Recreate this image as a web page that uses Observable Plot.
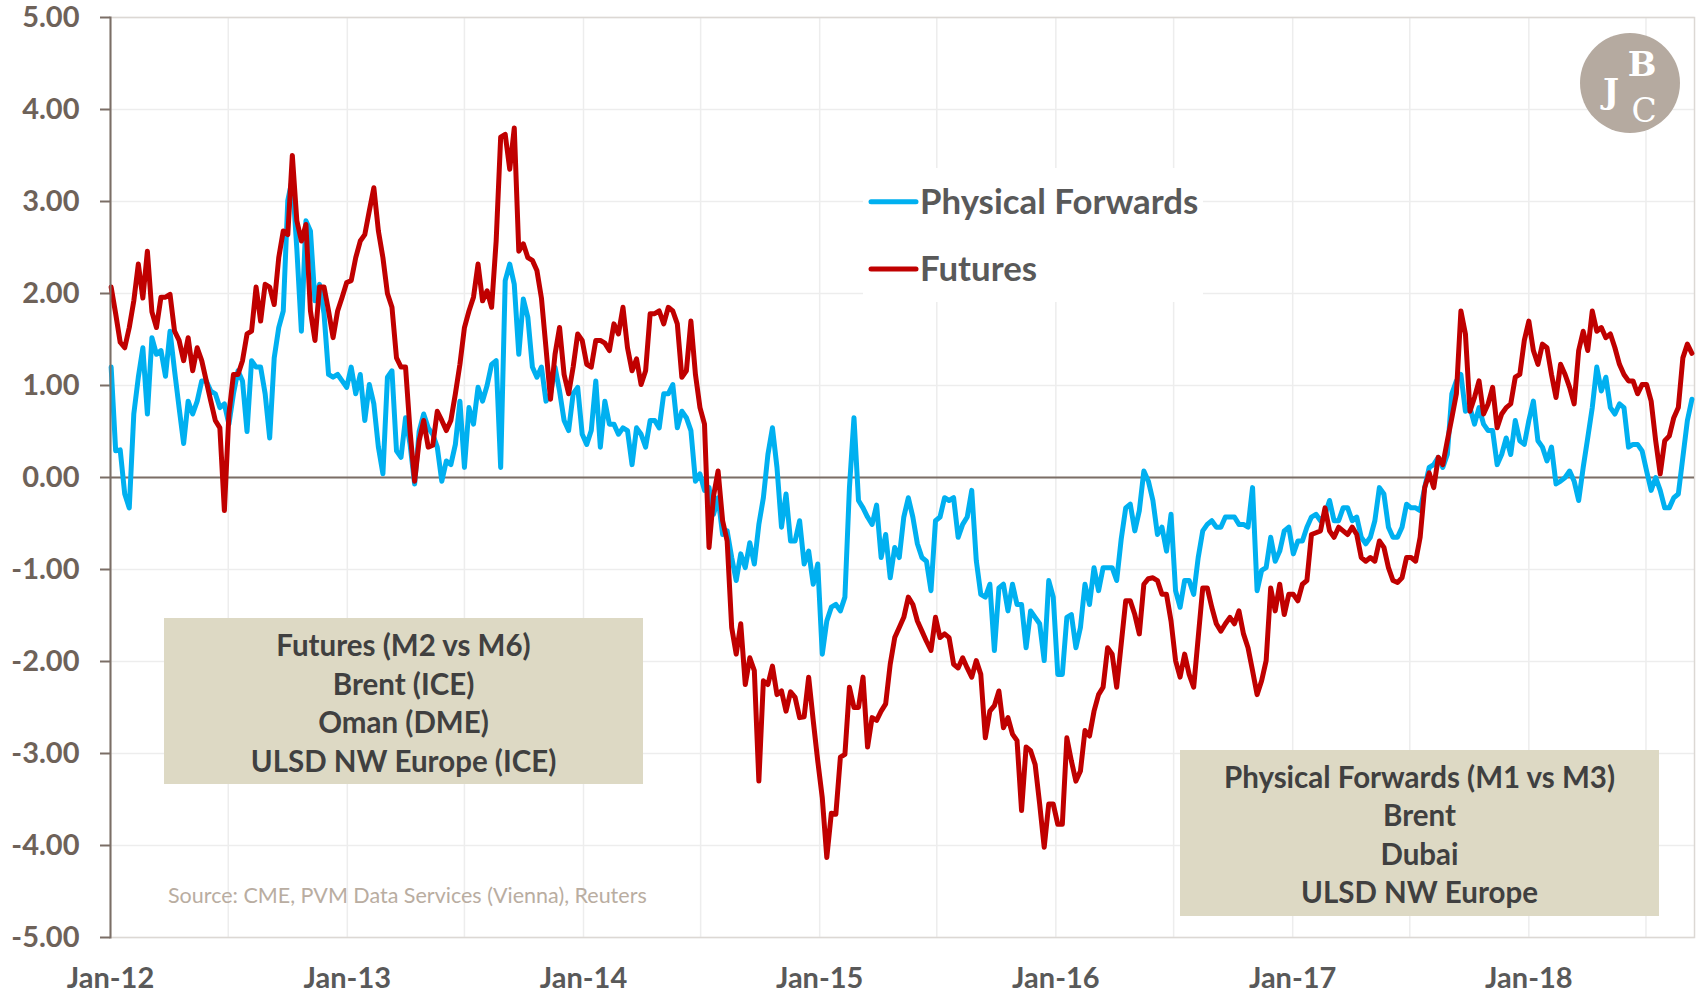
<!DOCTYPE html>
<html>
<head>
<meta charset="utf-8">
<script src="https://cdn.jsdelivr.net/npm/d3@7"></script>
<script src="https://cdn.jsdelivr.net/npm/@observablehq/plot@0.6"></script>
<style>
  html, body { margin: 0; padding: 0; background: #fff; }
  #wrap { position: relative; width: 1700px; height: 991px; font-family: Lato, "Open Sans", sans-serif; }
  #wrap > svg.overlay { position: absolute; left: 0; top: 0; pointer-events: none; }
</style>
</head>
<body>
<div id="wrap"></div>
<script>
// Weekly observations starting Monday 2 Jan 2012 (USD/bbl spread)
const firstWeek = "2012-01-02";

const futures2012 = [2.07,1.78,1.47,1.41,1.63,1.92,2.32,1.95,2.46,1.80,1.63,1.96,1.96,1.99,1.59,1.49,1.27,1.52,1.16,1.41,1.27,1.05,0.83,0.62,0.54,-0.36,0.69,1.12,1.12,1.27,1.56,1.59,2.07,1.70,2.10,2.07,1.88,2.39,2.68,2.64,3.50,2.79,2.57,2.75,1.81,1.49,2.07,2.07,1.81,1.52,1.81,1.96,2.12];
const futures2013 = [2.14,2.39,2.57,2.64,2.90,3.15,2.68,2.39,2.00,1.85,1.30,1.20,1.20,0.50,-0.04,0.40,0.62,0.33,0.35,0.72,0.62,0.51,0.62,0.91,1.23,1.63,1.81,1.96,2.32,1.92,2.03,1.85,2.57,3.70,3.73,3.35,3.80,2.46,2.54,2.39,2.36,2.25,1.95,1.41,0.85,1.34,1.63,1.12,0.91,1.20,1.56,1.49,1.23];
const futures2014 = [1.20,1.49,1.49,1.46,1.38,1.67,1.56,1.85,1.41,1.16,1.29,1.01,1.16,1.78,1.78,1.81,1.67,1.85,1.81,1.67,1.09,1.16,1.70,1.12,0.76,0.58,-0.76,-0.20,0.07,-0.47,-0.69,-1.63,-1.92,-1.59,-2.25,-1.96,-2.10,-3.30,-2.21,-2.25,-2.05,-2.36,-2.32,-2.54,-2.33,-2.39,-2.61,-2.60,-2.17,-2.64,-3.08,-3.48];
const futures2015 = [-4.13,-3.65,-3.66,-3.04,-3.01,-2.28,-2.50,-2.50,-2.17,-2.93,-2.61,-2.64,-2.54,-2.46,-2.03,-1.74,-1.63,-1.52,-1.30,-1.38,-1.56,-1.67,-1.78,-1.88,-1.52,-1.74,-1.70,-1.74,-2.03,-2.07,-1.96,-2.07,-2.17,-1.99,-2.14,-2.83,-2.54,-2.48,-2.32,-2.72,-2.61,-2.79,-2.86,-3.62,-2.93,-2.97,-3.12,-3.55,-4.02,-3.55,-3.55,-3.77];
const futures2016 = [-3.77,-2.83,-3.08,-3.30,-3.19,-2.75,-2.81,-2.54,-2.36,-2.28,-1.85,-1.92,-2.28,-1.81,-1.34,-1.34,-1.49,-1.70,-1.16,-1.10,-1.09,-1.12,-1.27,-1.27,-1.56,-1.99,-2.17,-1.92,-2.14,-2.28,-1.74,-1.20,-1.20,-1.41,-1.59,-1.67,-1.59,-1.52,-1.59,-1.45,-1.70,-1.85,-2.10,-2.36,-2.21,-1.99,-1.20,-1.45,-1.16,-1.49,-1.27,-1.27,-1.34];
const futures2017_18 = [-1.16,-1.12,-0.62,-0.60,-0.58,-0.33,-0.58,-0.65,-0.54,-0.58,-0.62,-0.54,-0.62,-0.87,-0.91,-0.87,-0.91,-0.69,-0.76,-0.98,-1.12,-1.14,-1.09,-0.87,-0.87,-0.91,-0.65,-0.11,0.05,-0.11,0.22,0.14,0.40,0.65,0.91,1.81,1.56,0.72,0.87,1.05,0.69,0.80,0.98,0.54,0.69,0.76,0.80,1.09,1.12,1.49,1.70,1.38,1.23,1.45,1.41,1.12,0.87,1.23,1.12,0.98,0.80,1.38,1.59,1.38,1.81,1.59,1.63,1.52,1.56,1.41,1.23,1.12,1.05,1.05,0.91,1.01,1.01,0.83,0.40,0.04,0.40,0.45,0.65,0.76,1.30,1.45,1.35];

const physical2012 = [1.20,0.29,0.30,-0.18,-0.33,0.69,1.09,1.41,0.69,1.52,1.34,1.38,1.10,1.59,1.16,0.76,0.37,0.83,0.69,0.83,1.05,1.05,0.94,0.91,0.76,0.80,0.58,0.91,1.16,1.05,0.50,1.27,1.20,1.20,0.91,0.43,1.30,1.63,1.81,3.01,3.25,2.48,1.59,2.79,2.68,1.92,2.10,1.78,1.12,1.09,1.12,1.05,0.98];
const physical2013 = [1.20,0.91,1.12,0.62,1.01,0.80,0.33,0.04,1.09,1.16,0.29,0.22,0.65,0.36,-0.07,0.50,0.69,0.54,0.47,0.33,-0.04,0.18,0.14,0.36,0.83,0.11,0.76,0.58,0.98,0.83,1.00,1.23,1.27,0.11,2.14,2.32,2.10,1.34,1.94,1.74,1.20,1.09,1.20,0.83,0.91,1.20,0.94,0.62,0.51,0.91,0.98,0.47,0.36];
const physical2014 = [0.51,1.05,0.33,0.83,0.58,0.58,0.47,0.54,0.51,0.14,0.54,0.47,0.33,0.62,0.62,0.54,0.91,0.91,1.01,0.54,0.72,0.65,0.51,-0.04,0.04,-0.14,-0.11,-0.40,-0.22,-0.62,-0.58,-0.87,-1.12,-0.83,-0.98,-0.71,-0.94,-0.51,-0.22,0.25,0.54,0.11,-0.54,-0.18,-0.69,-0.69,-0.47,-0.94,-0.80,-1.16,-0.94,-1.92];
const physical2015 = [-1.56,-1.41,-1.38,-1.45,-1.30,-0.11,0.65,-0.25,-0.33,-0.43,-0.51,-0.30,-0.87,-0.62,-1.09,-0.76,-0.87,-0.43,-0.22,-0.43,-0.72,-0.87,-0.91,-1.23,-0.47,-0.43,-0.22,-0.25,-0.22,-0.65,-0.51,-0.43,-0.14,-0.90,-1.27,-1.30,-1.16,-1.88,-1.20,-1.16,-1.45,-1.16,-1.38,-1.38,-1.85,-1.45,-1.52,-1.59,-1.99,-1.12,-1.30,-2.14];
const physical2016 = [-2.14,-1.52,-1.49,-1.85,-1.63,-1.16,-1.38,-0.98,-1.23,-0.98,-0.98,-0.98,-1.12,-0.67,-0.33,-0.29,-0.58,-0.36,0.07,-0.04,-0.25,-0.62,-0.54,-0.80,-0.40,-1.23,-1.41,-1.12,-1.12,-1.27,-0.87,-0.58,-0.51,-0.47,-0.54,-0.54,-0.43,-0.43,-0.43,-0.51,-0.51,-0.54,-0.11,-1.23,-1.01,-0.98,-0.65,-0.91,-0.80,-0.58,-0.54,-0.83,-0.69];
const physical2017_18 = [-0.69,-0.54,-0.43,-0.40,-0.47,-0.40,-0.25,-0.47,-0.47,-0.33,-0.33,-0.47,-0.43,-0.65,-0.72,-0.65,-0.47,-0.11,-0.18,-0.54,-0.65,-0.65,-0.54,-0.29,-0.33,-0.33,-0.36,-0.11,0.11,0.14,0.22,0.11,0.25,0.91,1.05,1.12,0.72,0.76,0.58,0.76,0.58,0.51,0.51,0.14,0.25,0.43,0.25,0.62,0.40,0.36,0.62,0.83,0.40,0.33,0.18,0.33,-0.07,-0.04,0.00,0.07,-0.04,-0.25,0.11,0.43,0.76,1.20,0.94,1.09,0.76,0.69,0.80,0.76,0.33,0.36,0.36,0.29,0.07,-0.14,0.00,-0.14,-0.33,-0.33,-0.22,-0.18,0.22,0.62,0.85];

const seriesNames = ["Physical Forwards", "Futures"];
const seriesColors = ["#00b0f0", "#c00000"];
const yTicks = [5, 4, 3, 2, 1, 0, -1, -2, -3, -4, -5];
const xTickLabels = ["Jan-12", "Jan-13", "Jan-14", "Jan-15", "Jan-16", "Jan-17", "Jan-18"];
const xRange = ["2012-01-01", "2018-09-14"];
const leftBoxLines = ["Futures (M2 vs M6)", "Brent (ICE)", "Oman (DME)", "ULSD NW Europe (ICE)"];
const rightBoxLines = ["Physical Forwards (M1 vs M3)", "Brent", "Dubai", "ULSD NW Europe"];
const sourceNote = "Source: CME, PVM Data Services (Vienna), Reuters";

// ---- build table ----
const futures = [].concat(futures2012, futures2013, futures2014, futures2015, futures2016, futures2017_18);
const physical = [].concat(physical2012, physical2013, physical2014, physical2015, physical2016, physical2017_18);
const start = d3.utcParse("%Y-%m-%d")(firstWeek);
const rows = [];
futures.forEach((v, i) => {
  const date = d3.utcDay.offset(start, 7 * i);
  rows.push({date, series: seriesNames[0], value: physical[i]});
  rows.push({date, series: seriesNames[1], value: v});
});
const parse = d3.utcParse("%Y-%m-%d");
const xDomain = xRange.map(parse);
const gridDates = d3.utcMonth.every(6).range(xDomain[0], xDomain[1]);
const tickDates = xTickLabels.map(s => d3.utcParse("%b-%y")(s));

const axisColor = "#7b6e66";
const gridColor = "#ededed";

const chart = Plot.plot({
  width: 1700,
  height: 991,
  marginTop: 17,
  marginBottom: 54,
  marginLeft: 110,
  marginRight: 6,
  style: {fontFamily: "Lato, 'Open Sans', sans-serif", background: "#fff", overflow: "visible"},
  x: {type: "utc", domain: xDomain, label: null},
  y: {domain: [-5, 5], label: null},
  color: {domain: seriesNames, range: seriesColors},
  marks: [
    Plot.gridX(gridDates, {stroke: gridColor, strokeOpacity: 1, strokeWidth: 1.5}),
    Plot.gridY(yTicks, {stroke: gridColor, strokeOpacity: 1, strokeWidth: 1.5}),
    Plot.frame({stroke: "#dcd8d4", strokeWidth: 1.5}),
    Plot.ruleY([0], {stroke: axisColor, strokeWidth: 2}),
    Plot.axisY(yTicks, {
      tickFormat: d => d.toFixed(2), tickSize: 10, tickPadding: 21,
      fontSize: 29, fontWeight: "bold", fill: "#6e6259", stroke: axisColor, strokeWidth: 2, label: null
    }),
    Plot.axisX(tickDates, {
      tickFormat: d3.utcFormat("%b-%y"), tickSize: 0, tickPadding: 30,
      fontSize: 29, fontWeight: "bold", fill: "#595959", label: null
    }),
    Plot.lineY(rows, {x: "date", y: "value", z: "series", stroke: "series",
      strokeWidth: 5, strokeLinejoin: "round", strokeLinecap: "round"}),
    Plot.frame({anchor: "left", stroke: axisColor, strokeWidth: 2})
  ]
});

const wrap = document.getElementById("wrap");
wrap.appendChild(chart);

// ---- overlay: legend, notes, source, logo ----
const ov = d3.select(wrap).append("svg")
  .attr("class", "overlay").attr("width", 1700).attr("height", 991)
  .style("font-family", "Lato, 'Open Sans', sans-serif");

// legend
ov.append("rect").attr("x", 863).attr("y", 168).attr("width", 340).attr("height", 134).attr("fill", "#fff");
seriesNames.forEach((name, i) => {
  const cy = 201.7 + i * 67.3;
  ov.append("line").attr("x1", 871).attr("x2", 916).attr("y1", cy).attr("y2", cy)
    .attr("stroke", seriesColors[i]).attr("stroke-width", 5).attr("stroke-linecap", "round");
  ov.append("text").attr("x", 920).attr("y", cy + 12.3).attr("font-size", 34.8).attr("font-weight", "bold")
    .attr("fill", "#595959").text(name);
});

// note boxes
function noteBox(x, y, w, h, lines, lineYs) {
  ov.append("rect").attr("x", x).attr("y", y).attr("width", w).attr("height", h).attr("fill", "#ddd9c4");
  lines.forEach((t, i) => {
    ov.append("text").attr("x", x + w / 2).attr("y", lineYs[i] + 10.6)
      .attr("text-anchor", "middle").attr("font-size", 29.5).attr("font-weight", "bold")
      .attr("fill", "#404040").text(t);
  });
}
noteBox(164, 618, 479, 166, leftBoxLines, [645, 684, 722, 761]);
noteBox(1180, 750, 479, 166, rightBoxLines, [777.4, 815.3, 854.3, 892.3]);

// source
ov.append("text").attr("x", 168).attr("y", 903).attr("font-size", 21.5)
  .attr("fill", "#b9ada1").text(sourceNote);

// logo: circle with J, B, C letters arranged so they do not collide
const logo = ov.append("g").attr("transform", "translate(1630,83)");
logo.append("circle").attr("r", 50).attr("fill", "#b5aaa0");
const serif = "'DejaVu Serif', serif";
logo.append("text").attr("x", 12).attr("y", -7).attr("text-anchor", "middle").attr("font-size", 34)
  .attr("font-family", serif).attr("font-weight", "bold").attr("fill", "#fff").text("B");
logo.append("text").attr("x", -19).attr("y", 20).attr("text-anchor", "middle").attr("font-size", 34)
  .attr("font-family", serif).attr("font-weight", "bold").attr("fill", "#fff").text("J");
logo.append("text").attr("x", 14).attr("y", 39).attr("text-anchor", "middle").attr("font-size", 33)
  .attr("font-family", serif).attr("fill", "#fff").text("C");
</script>
</body>
</html>
